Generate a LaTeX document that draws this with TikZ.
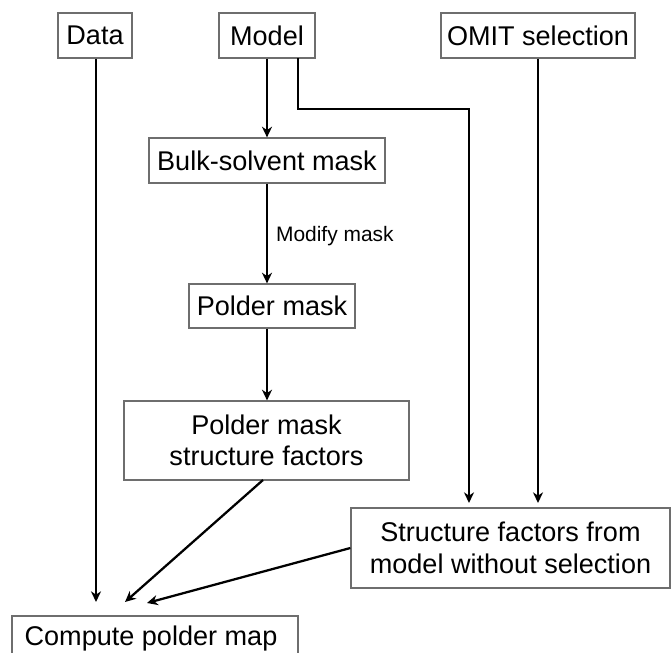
\documentclass[tikz,border=0pt]{standalone}
\usepackage{fontspec}
\setmainfont{Liberation Sans}
\usetikzlibrary{arrows.meta}
\definecolor{boxgray}{RGB}{110,110,110}
\begin{document}
\begin{tikzpicture}[x=0.75pt,y=-0.75pt,
  box/.style={draw=boxgray,line width=0.9pt,inner sep=0pt,align=center,
    font=\fontsize{20.3}{23.5}\selectfont},
  conn/.style={line width=1.7pt,-{Stealth[length=8pt,width=7.5pt,inset=2.5pt]}},
  lbl/.style={font=\fontsize{15.7}{18}\selectfont,anchor=west,inner sep=0pt}]
\useasboundingbox (0,0) rectangle (672,653);
\clip (0,0) rectangle (672,653);
\fill[white] (0,0) rectangle (672,653);
% boxes
\node[box,minimum width=55.5pt,minimum height=33.75pt] (data) at (95,35.5) {Data};
\node[box,minimum width=72pt,minimum height=33.75pt] (model) at (267,35.5) {Model};
\node[box,minimum width=145.5pt,minimum height=33.75pt] (omit) at (538,35.5) {OMIT selection};
\node[box,minimum width=177pt,minimum height=33.75pt] (bulk) at (267,160.5) {Bulk-solvent mask};
\node[box,minimum width=124.5pt,minimum height=33pt] (polder) at (272,306) {Polder mask};
\node[box,minimum width=213.75pt,minimum height=59.25pt] (pmsf) at (266.5,440.5) {Polder mask\\structure factors};
\node[box,minimum width=239.25pt,minimum height=60pt] (sf) at (510.5,548) {Structure factors from\\model without selection};
\node[box,minimum width=214.5pt,minimum height=33pt] (comp) at (155,638) {};
\node[font=\fontsize{20.3}{23.5}\selectfont,inner sep=0pt] (comptext) at (151,638) {Compute polder map};
% connector points
\coordinate (dataend) at (96,602);
\coordinate (pmsfend) at (125,602);
\coordinate (sfend) at (147,603);
\coordinate (mstart) at (298,58);
\coordinate (mturn1) at (298,109);
\coordinate (mturn2) at (469,109);
\coordinate (mend) at (469,503);
\coordinate (oend) at (538,503);
\coordinate (pmsfstart) at (263,480);
% connectors
\draw[conn] (data.south -| dataend) -- (dataend);
\draw[conn] (model.south) -- (bulk.north);
\draw[conn] (mstart) -- (mturn1) -- (mturn2) -- (mend);
\draw[conn] (omit.south) -- (oend);
\draw[conn] (bulk.south) -- (bulk.south |- polder.north)
  node[lbl,midway,xshift=6pt,yshift=-2pt] (modlbl) {Modify mask};
\draw[conn] (polder.south -| bulk.south) -- (pmsf.north -| bulk.south);
\draw[conn] (pmsfstart) -- (pmsfend);
\draw[conn] (sf.west) -- (sfend);
\end{tikzpicture}
\end{document}
